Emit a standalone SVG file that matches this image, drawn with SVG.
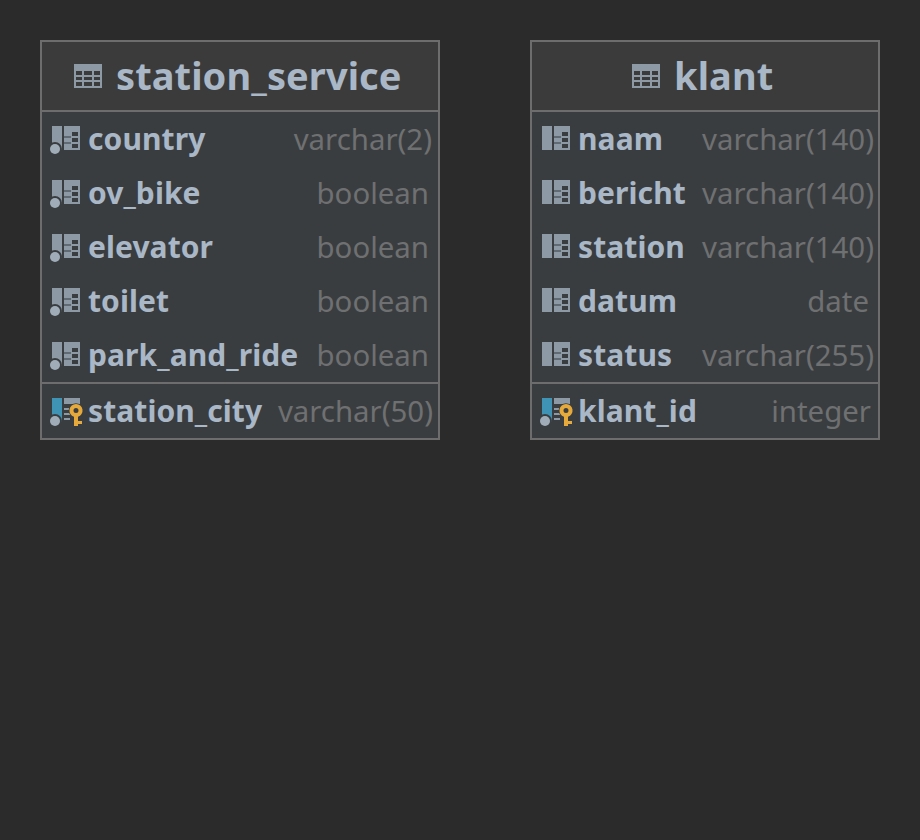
<svg xmlns="http://www.w3.org/2000/svg" width="920" height="840" viewBox="0 0 920 840">
<style>
text{font-family:"Noto Sans","DejaVu Sans",sans-serif}
.t{font-size:38px;font-weight:700;fill:#a9b7c6;letter-spacing:.08px}
.n{font-size:30px;font-weight:700;fill:#a9b7c6;letter-spacing:.08px}
.y{font-size:29.4px;fill:#6f7071;text-anchor:end}
.hd{fill:#3c3b3b}.bd{fill:#3a3d40}
.ln{stroke:#6d6d6d;stroke-width:2;fill:none}
</style>
<defs>
<g id="tbl"><path fill="#8d9aa5" fill-rule="evenodd" d="M0 0h28v24H0zM2 7v4h6v-4zM10 7v4h8v-4zM20 7v4h6v-4zM2 13v3h6v-3zM10 13v3h8v-3zM20 13v3h6v-3zM2 18v4h6v-4zM10 18v4h8v-4zM20 18v4h6v-4z"/></g>
<g id="col"><rect x="0" y="0" width="10" height="24" fill="#8d9aa5"/><path fill="#8d9aa5" d="M12 0h16v24H12z"/><path fill="#3a3d40" d="M20 6h6v4h-6zM20 12h6v4h-6zM20 18h6v4h-6z"/><path fill="#5f6a72" d="M12 10h7v2h-7zM12 16h7v2h-7z"/></g>
<g id="dot"><circle cx="3" cy="23" r="7" fill="#3a3d40"/><circle cx="3" cy="23" r="5" fill="#a0adb8"/></g>
<g id="pk"><rect x="0" y="0" width="10" height="24" fill="#3f93b5"/><path fill="#8d9aa5" d="M12 0h16v6H12zM12 10h6v2h-6zM12 15h6v2h-6zM12 20h6v2h-6z"/><path fill="#e5a93c" stroke="#3a3d40" stroke-width="1.500" paint-order="stroke" fill-rule="evenodd" d="M24 6a6.500 6.500 0 0 1 2 12.700V23h4v3h-4v2h-4V18.700A6.500 6.500 0 0 1 24 6zM24 10a2.500 2.500 0 1 0 0 5 2.500 2.500 0 0 0 0-5z"/></g>
</defs>
<rect width="920" height="840" fill="#2b2b2b"/>
<g id="connectors"/>
<g id="station_service">
<rect x="41" y="41" width="398" height="70" class="hd"/>
<rect x="41" y="111" width="398" height="328" class="bd"/>
<rect x="41" y="41" width="398" height="398" class="ln"/>
<path class="ln" d="M41 111H439M41 383H439"/>
<use href="#tbl" x="74" y="64"/>
<text class="t" x="116" y="90">station_service</text>
<use href="#col" x="52" y="126"/><use href="#dot" x="52" y="126"/><text class="n" x="88" y="150">country</text><text class="y" x="432" y="150">varchar(2)</text>
<use href="#col" x="52" y="180"/><use href="#dot" x="52" y="180"/><text class="n" x="88" y="204">ov_bike</text><text class="y" x="429" y="204">boolean</text>
<use href="#col" x="52" y="234"/><use href="#dot" x="52" y="234"/><text class="n" x="88" y="258">elevator</text><text class="y" x="429" y="258">boolean</text>
<use href="#col" x="52" y="288"/><use href="#dot" x="52" y="288"/><text class="n" x="88" y="312">toilet</text><text class="y" x="429" y="312">boolean</text>
<use href="#col" x="52" y="342"/><use href="#dot" x="52" y="342"/><text class="n" x="88" y="366">park_and_ride</text><text class="y" x="429" y="366">boolean</text>
<use href="#pk" x="52" y="398"/><use href="#dot" x="52" y="398"/><text class="n" x="88" y="422">station_city</text><text class="y" x="433" y="422">varchar(50)</text>
</g>
<g id="klant">
<rect x="531" y="41" width="348" height="70" class="hd"/>
<rect x="531" y="111" width="348" height="328" class="bd"/>
<rect x="531" y="41" width="348" height="398" class="ln"/>
<path class="ln" d="M531 111H879M531 383H879"/>
<use href="#tbl" x="632" y="64"/>
<text class="t" x="674" y="90">klant</text>
<use href="#col" x="542" y="126"/><text class="n" x="578" y="150">naam</text><text class="y" x="874" y="150">varchar(140)</text>
<use href="#col" x="542" y="180"/><text class="n" x="578" y="204">bericht</text><text class="y" x="874" y="204">varchar(140)</text>
<use href="#col" x="542" y="234"/><text class="n" x="578" y="258">station</text><text class="y" x="874" y="258">varchar(140)</text>
<use href="#col" x="542" y="288"/><text class="n" x="578" y="312">datum</text><text class="y" x="869" y="312">date</text>
<use href="#col" x="542" y="342"/><text class="n" x="578" y="366">status</text><text class="y" x="874" y="366">varchar(255)</text>
<use href="#pk" x="542" y="398"/><use href="#dot" x="542" y="398"/><text class="n" x="578" y="422">klant_id</text><text class="y" x="871" y="422">integer</text>
</g>
</svg>
